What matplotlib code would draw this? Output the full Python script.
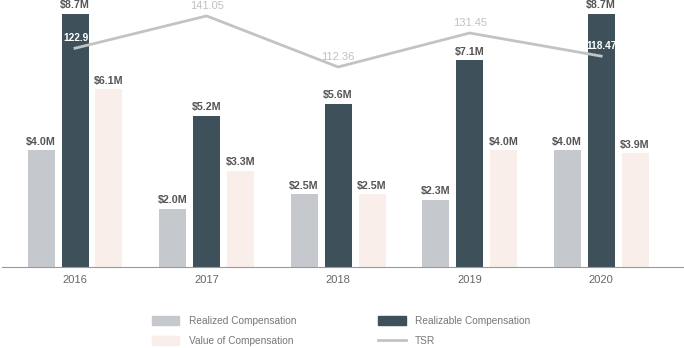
import numpy as np
import matplotlib
matplotlib.use('Agg')
import matplotlib.pyplot as plt
from matplotlib.patches import Patch
from matplotlib.lines import Line2D

plt.rcParams['font.family'] = ['Liberation Sans', 'DejaVu Sans']

years = ['2016', '2017', '2018', '2019', '2020']
realized = [4.0, 2.0, 2.5, 2.3, 4.0]
realizable = [8.7, 5.2, 5.6, 7.1, 8.7]
value_comp = [6.1, 3.3, 2.5, 4.0, 3.9]
tsr = [122.9, 141.05, 112.36, 131.45, 118.47]
tsr_labels = ['122.9', '141.05', '112.36', '131.45', '118.47']

c_realized = '#c5c9cd'
c_realizable = '#3e515b'
c_value = '#f9eee9'
c_tsr = '#c3c3c3'
c_lbl = '#555555'

fig = plt.figure(figsize=(6.84, 3.48), dpi=100)
ax = fig.add_axes([0.003, 0.233, 0.997, 0.767])
x = np.arange(len(years))
w = 0.205
off = 0.258

bars = [(realized, c_realized, -off), (realizable, c_realizable, 0), (value_comp, c_value, off)]
for vals, col, dx in bars:
    ax.bar(x + dx, vals, w, color=col, zorder=2)
    for xi, v in zip(x, vals):
        ax.text(xi + dx, v + 0.12, '$%.1fM' % v, ha='center', va='bottom',
                fontsize=7.7, fontweight='bold', color=c_lbl, zorder=5)

ax.set_xlim(-0.555, 4.63)
ax.set_ylim(0, 9.17)
for s in ['top', 'right', 'left']:
    ax.spines[s].set_visible(False)
ax.spines['bottom'].set_color('#9a9a9a')
ax.set_yticks([])
ax.set_xticks(x)
ax.set_xticklabels(years, fontsize=8, color='#666666')
ax.tick_params(axis='x', length=0, pad=6)

ax2 = ax.twinx()
ax2.set_ylim(0, 150)
ax2.axis('off')
ax2.plot(x, tsr, color=c_tsr, lw=2, zorder=3)
for i, (xi, t, lab) in enumerate(zip(x, tsr, tsr_labels)):
    if i in (0, 4):
        ax2.text(xi + 0.005, t + 3, lab, ha='center', va='bottom',
                 fontsize=7.3, fontweight='bold', color='white')
    else:
        ax2.text(xi, t + 3, lab, ha='center', va='bottom', fontsize=8, color='#c0c0c0')

handles = [Patch(color=c_realized), Patch(color=c_value),
           Patch(color=c_realizable), Line2D([0], [0], color=c_tsr, lw=2)]
labels = ['Realized Compensation', 'Value of Compensation',
          'Realizable Compensation', 'TSR']
fig.legend(handles, labels, ncol=2, loc='center', bbox_to_anchor=(0.4985, 0.048),
           frameon=False, fontsize=7.3, labelcolor='#777777', handlelength=2.7,
           handleheight=1.0, columnspacing=8.1, labelspacing=1.0, handletextpad=0.9)

fig.savefig('out.png', dpi=100)
